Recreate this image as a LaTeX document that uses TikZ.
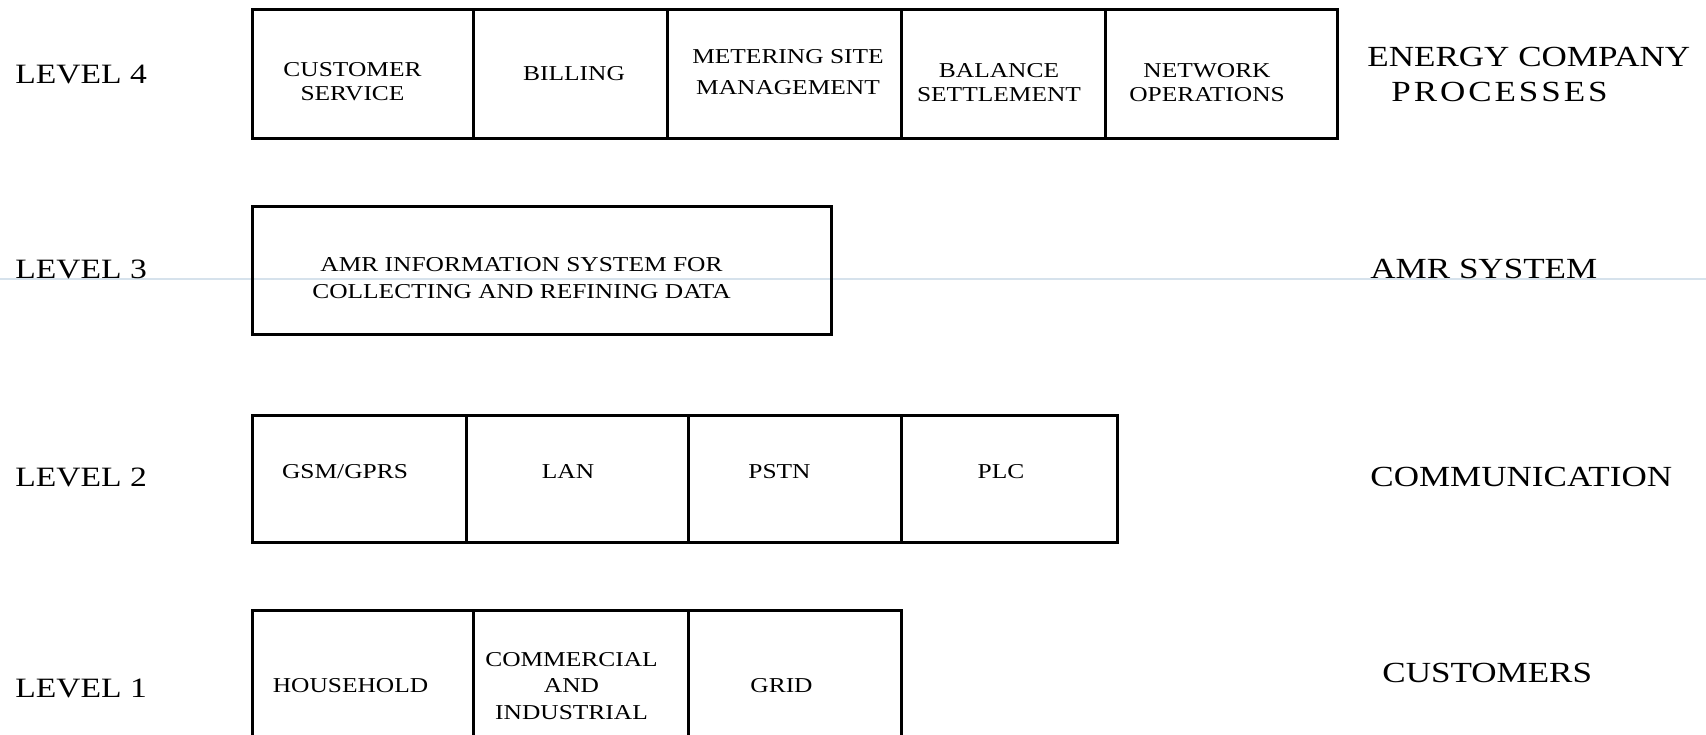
\documentclass[tikz,border=0pt]{standalone}
\usepackage{fontspec}
\setmainfont[FakeStretch=1.2]{Liberation Serif}
\usetikzlibrary{positioning,fit}
\definecolor{scanline}{RGB}{214,226,236}

\begin{document}
\begin{tikzpicture}[x=0.5pt,y=-0.5pt,
    cell/.style={draw, line width=1.5pt, inner sep=0pt},
    txt/.style={inner sep=0pt, align=center, font=\fontsize{10.6}{12}\selectfont},
    lvl/.style={anchor=base west, inner sep=0pt, font=\fontsize{14}{17}\selectfont},
    layer/.style={anchor=base west, inner sep=0pt, align=left, font=\fontsize{14.6}{17.5}\selectfont}]
  \clip (0,0) rectangle (1706,734);
  \fill[white] (0,0) rectangle (1706,734);
  \draw[scanline, line width=0.8pt] (0,279) -- (1706,279);
  % level 4
  \foreach \i/\xa/\xb/\dx/\dy/\txt in {1/252/473/-5/-4.2/{CUSTOMER\\SERVICE}, 2/473/667/2/0/{BILLING},
      3/667/901/2/0.5/{METERING SITE\\[3.5pt]MANAGEMENT}, 4/901/1105/-2/-4.5/{BALANCE\\SETTLEMENT},
      5/1105/1337/-7/-4.5/{NETWORK\\OPERATIONS}}
    \node[cell, fit={(\xa,9) (\xb,138)}, label={[txt, xshift=\dx pt, yshift=\dy pt]center:{\txt}}] (p\i) {};
  % level 3
  \node[cell, fit={(252,206) (831,334)},
    label={[txt, xshift=-10pt, yshift=-4pt]center:{AMR INFORMATION SYSTEM FOR\\[1.5pt]COLLECTING AND REFINING DATA}}] (amr) {};
  % level 2
  \foreach \i/\xa/\xb/\dx/\txt in {1/252/466/-7/{GSM/GPRS}, 2/466/688/-4.5/{LAN}, 3/688/901/-7.5/{PSTN}, 4/901/1117/-4/{PLC}}
    \node[cell, fit={(\xa,415) (\xb,542)}, label={[txt, xshift=\dx pt, yshift=3.3pt]center:{\txt}}] (m\i) {};
  % level 1
  \foreach \i/\xa/\xb/\dx/\txt in {1/252/473/-6/{HOUSEHOLD}, 2/473/688/-4.5/{COMMERCIAL\\[1.3pt]AND\\[1.3pt]INDUSTRIAL}, 3/688/901/-6.5/{GRID}}
    \node[cell, fit={(\xa,610) (\xb,766)}, label={[txt, xshift=\dx pt, yshift=1pt]center:{\txt}}] (u\i) {};
  \node[lvl] (lv4) at (15,83) {LEVEL 4};
  \node[lvl] (lv3) at (15,278) {LEVEL 3};
  \node[lvl] (lv2) at (15,486) {LEVEL 2};
  \node[lvl] (lv1) at (15,697) {LEVEL 1};
  \node[layer] (ly4) at (1367,101) {ENERGY COMPANY\\\hspace*{12pt}{\addfontfeature{LetterSpace=10}PROCESSES}};
  \node[layer] (ly3) at (1370,278) {AMR SYSTEM};
  \node[layer] (ly2) at (1370,486) {COMMUNICATION};
  \node[layer] (ly1) at (1382,682) {CUSTOMERS};
\end{tikzpicture}
\end{document}
